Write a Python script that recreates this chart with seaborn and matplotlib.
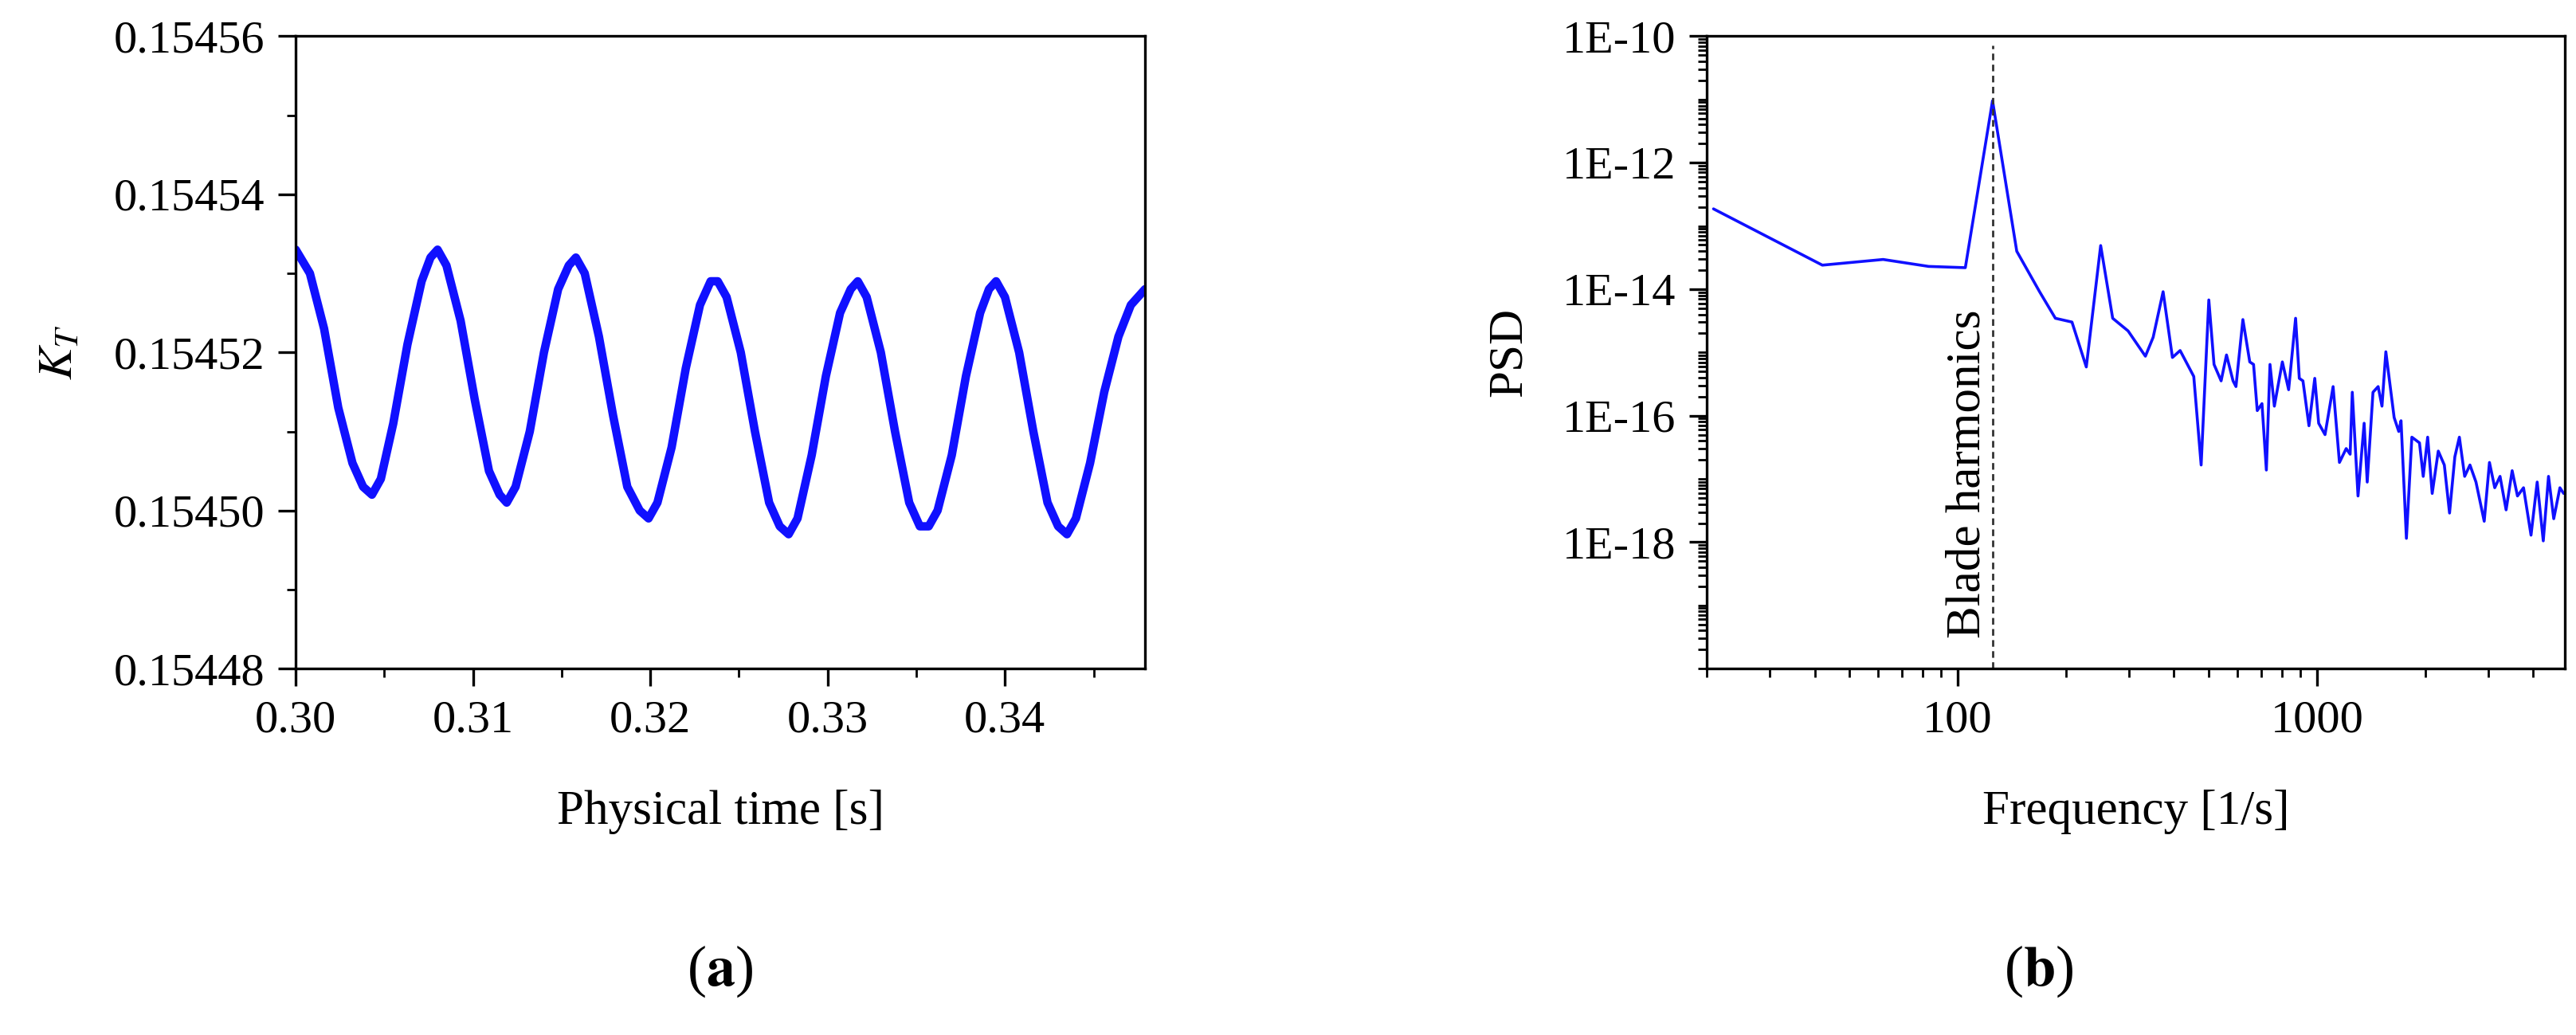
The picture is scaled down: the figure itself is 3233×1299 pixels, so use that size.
import numpy as np
import pandas as pd
import matplotlib
matplotlib.use("Agg")
import matplotlib.pyplot as plt
import matplotlib.ticker as mticker
import seaborn as sns

# panel (a): thrust coefficient vs time
time_s = [0.3000, 0.3008, 0.3016, 0.3024, 0.3032, 0.3038, 0.3043, 0.3048, 0.3055, 0.3063,
          0.3071, 0.3076, 0.3080, 0.3085, 0.3093, 0.3101, 0.3109, 0.3115, 0.3119,
          0.3124, 0.3132, 0.3140, 0.3148, 0.3154, 0.3158, 0.3163, 0.3171, 0.3179,
          0.3187, 0.3194, 0.3199, 0.3204, 0.3212, 0.3220, 0.3228, 0.3234, 0.3238,
          0.3243, 0.3251, 0.3259, 0.3267, 0.3273, 0.3278, 0.3283, 0.3291, 0.3299,
          0.3307, 0.3313, 0.3317, 0.3322, 0.3330, 0.3338, 0.3346, 0.3352, 0.3357,
          0.3362, 0.3370, 0.3378, 0.3386, 0.3391, 0.3395, 0.3400, 0.3408, 0.3416,
          0.3424, 0.3430, 0.3435, 0.3440, 0.3448, 0.3456, 0.3464, 0.3471, 0.3479]
kt = [0.154533, 0.154530, 0.154523, 0.154513, 0.154506, 0.154503, 0.154502, 0.154504, 0.154511, 0.154521,
      0.154529, 0.154532, 0.154533, 0.154531, 0.154524, 0.154514, 0.154505, 0.154502, 0.154501,
      0.154503, 0.154510, 0.154520, 0.154528, 0.154531, 0.154532, 0.154530, 0.154522, 0.154512,
      0.154503, 0.154500, 0.154499, 0.154501, 0.154508, 0.154518, 0.154526, 0.154529, 0.154529,
      0.154527, 0.154520, 0.154510, 0.154501, 0.154498, 0.154497, 0.154499, 0.154507, 0.154517,
      0.154525, 0.154528, 0.154529, 0.154527, 0.154520, 0.154510, 0.154501, 0.154498, 0.154498,
      0.154500, 0.154507, 0.154517, 0.154525, 0.154528, 0.154529, 0.154527, 0.154520, 0.154510,
      0.154501, 0.154498, 0.154497, 0.154499, 0.154506, 0.154515, 0.154522, 0.154526, 0.154528]

# panel (b): power spectral density (log10 values)
freq = [20.9, 42, 62, 83, 105, 125, 146, 169, 187, 208, 228, 250, 270, 298, 333, 350,
        373, 396, 416, 454, 476, 500, 517, 541, 560, 584, 595, 622, 650, 666, 682,
        703, 723, 740, 761, 801, 834, 872, 893, 914, 950, 986, 1011, 1053, 1109,
        1155, 1206, 1237, 1254, 1301, 1353, 1380, 1432, 1480, 1517, 1555, 1592,
        1640, 1689, 1714, 1774, 1837, 1929, 1976, 2033, 2093, 2176, 2262, 2339,
        2420, 2491, 2577, 2666, 2771, 2921, 3021, 3125, 3233, 3361, 3494, 3615,
        3758, 3943, 4102, 4265, 4411, 4561, 4745, 4860]
psd_log = [-12.73, -13.62, -13.53, -13.64, -13.66, -11.02, -13.40, -14.04, -14.46,
           -14.52, -15.23, -13.31, -14.46, -14.66, -15.06, -14.76, -14.04, -15.08,
           -14.97, -15.38, -16.78, -14.17, -15.19, -15.45, -15.04, -15.45, -15.54,
           -14.48, -15.15, -15.19, -15.92, -15.81, -16.86, -15.19, -15.85, -15.15,
           -15.59, -14.46, -15.41, -15.45, -16.16, -15.41, -16.12, -16.30, -15.54,
           -16.74, -16.52, -16.61, -15.63, -17.27, -16.12, -17.05, -15.63, -15.54,
           -15.85, -14.99, -15.45, -16.03, -16.25, -16.08, -17.94, -16.34, -16.43,
           -16.96, -16.34, -17.23, -16.56, -16.78, -17.54, -16.65, -16.34, -16.96,
           -16.78, -17.05, -17.67, -16.74, -17.14, -16.96, -17.49, -16.87, -17.27,
           -17.14, -17.89, -17.05, -17.98, -16.96, -17.63, -17.14, -17.23]
blade_freq = 125

sns.set_theme(style="ticks")
plt.rcParams["font.family"] = ["Liberation Serif", "DejaVu Serif"]
plt.rcParams["mathtext.fontset"] = "stix"
plt.rcParams["font.size"] = 22
plt.rcParams["xtick.labelsize"] = 21
plt.rcParams["ytick.labelsize"] = 21
plt.rcParams["axes.labelsize"] = 22
plt.rcParams["axes.linewidth"] = 1.2
plt.rcParams["xtick.color"] = "black"
plt.rcParams["ytick.color"] = "black"
plt.rcParams["axes.edgecolor"] = "black"
plt.rcParams["text.color"] = "black"
plt.rcParams["axes.labelcolor"] = "black"

fig = plt.figure(figsize=(16.165, 6.495), dpi=200)
ax1 = fig.add_axes([0.1148, 0.354, 0.3297, 0.611])
ax2 = fig.add_axes([0.6625, 0.354, 0.3332, 0.611])

df_a = pd.DataFrame({"t": time_s, "kt": kt})
sns.lineplot(data=df_a, x="t", y="kt", ax=ax1, color="#1010ff", lw=3.8, estimator=None)
ax1.set_xlim(0.30, 0.3479)
ax1.set_ylim(0.15448, 0.15456)
ax1.xaxis.set_major_locator(mticker.MultipleLocator(0.01))
ax1.xaxis.set_minor_locator(mticker.MultipleLocator(0.005))
ax1.yaxis.set_major_locator(mticker.MultipleLocator(0.00002))
ax1.yaxis.set_minor_locator(mticker.MultipleLocator(0.00001))
ax1.xaxis.set_major_formatter(mticker.FormatStrFormatter("%.2f"))
ax1.yaxis.set_major_formatter(mticker.FormatStrFormatter("%.5f"))
ax1.set_xlabel("Physical time [s]", labelpad=22)
ax1.set_ylabel(r"$K_T$", labelpad=14)

df_b = pd.DataFrame({"f": freq, "psd": np.power(10.0, psd_log)})
sns.lineplot(data=df_b, x="f", y="psd", ax=ax2, color="#1010ff", lw=1.3, estimator=None)
ax2.set_xscale("log")
ax2.set_yscale("log")
ax2.set_xlim(20, 4900)
ax2.set_ylim(1e-20, 1e-10)
ax2.axvline(blade_freq, ymax=0.985, color="#333333", lw=1.0, ls=(0, (3, 2)))
ax2.text(blade_freq * 0.985, 3e-20, "Blade harmonics", rotation=90,
         ha="right", va="bottom", fontsize=22)
ax2.yaxis.set_major_locator(mticker.FixedLocator([1e-10, 1e-12, 1e-14, 1e-16, 1e-18]))
ax2.yaxis.set_minor_locator(mticker.LogLocator(base=10, subs=np.arange(1, 10), numticks=30))
ax2.yaxis.set_major_formatter(mticker.FuncFormatter(lambda v, p: "1E%d" % round(np.log10(v))))
ax2.yaxis.set_minor_formatter(mticker.NullFormatter())
ax2.xaxis.set_major_locator(mticker.FixedLocator([100, 1000]))
ax2.xaxis.set_major_formatter(mticker.FixedFormatter(["100", "1000"]))
ax2.xaxis.set_minor_locator(mticker.LogLocator(base=10, subs=np.arange(2, 10), numticks=30))
ax2.xaxis.set_minor_formatter(mticker.NullFormatter())
ax2.set_xlabel("Frequency [1/s]", labelpad=22)
ax2.set_ylabel("PSD", labelpad=14)

for ax in (ax1, ax2):
    ax.tick_params(which="major", direction="out", length=8, width=1.2, pad=6)
    ax.tick_params(which="minor", direction="out", length=4, width=1.0)
    for s in ax.spines.values():
        s.set_visible(True)

fig.text(0.2796, 0.048, r"($\mathbf{a}$)", ha="center", fontsize=26)
fig.text(0.7915, 0.048, r"($\mathbf{b}$)", ha="center", fontsize=26)

fig.savefig("out.png", dpi=200)
